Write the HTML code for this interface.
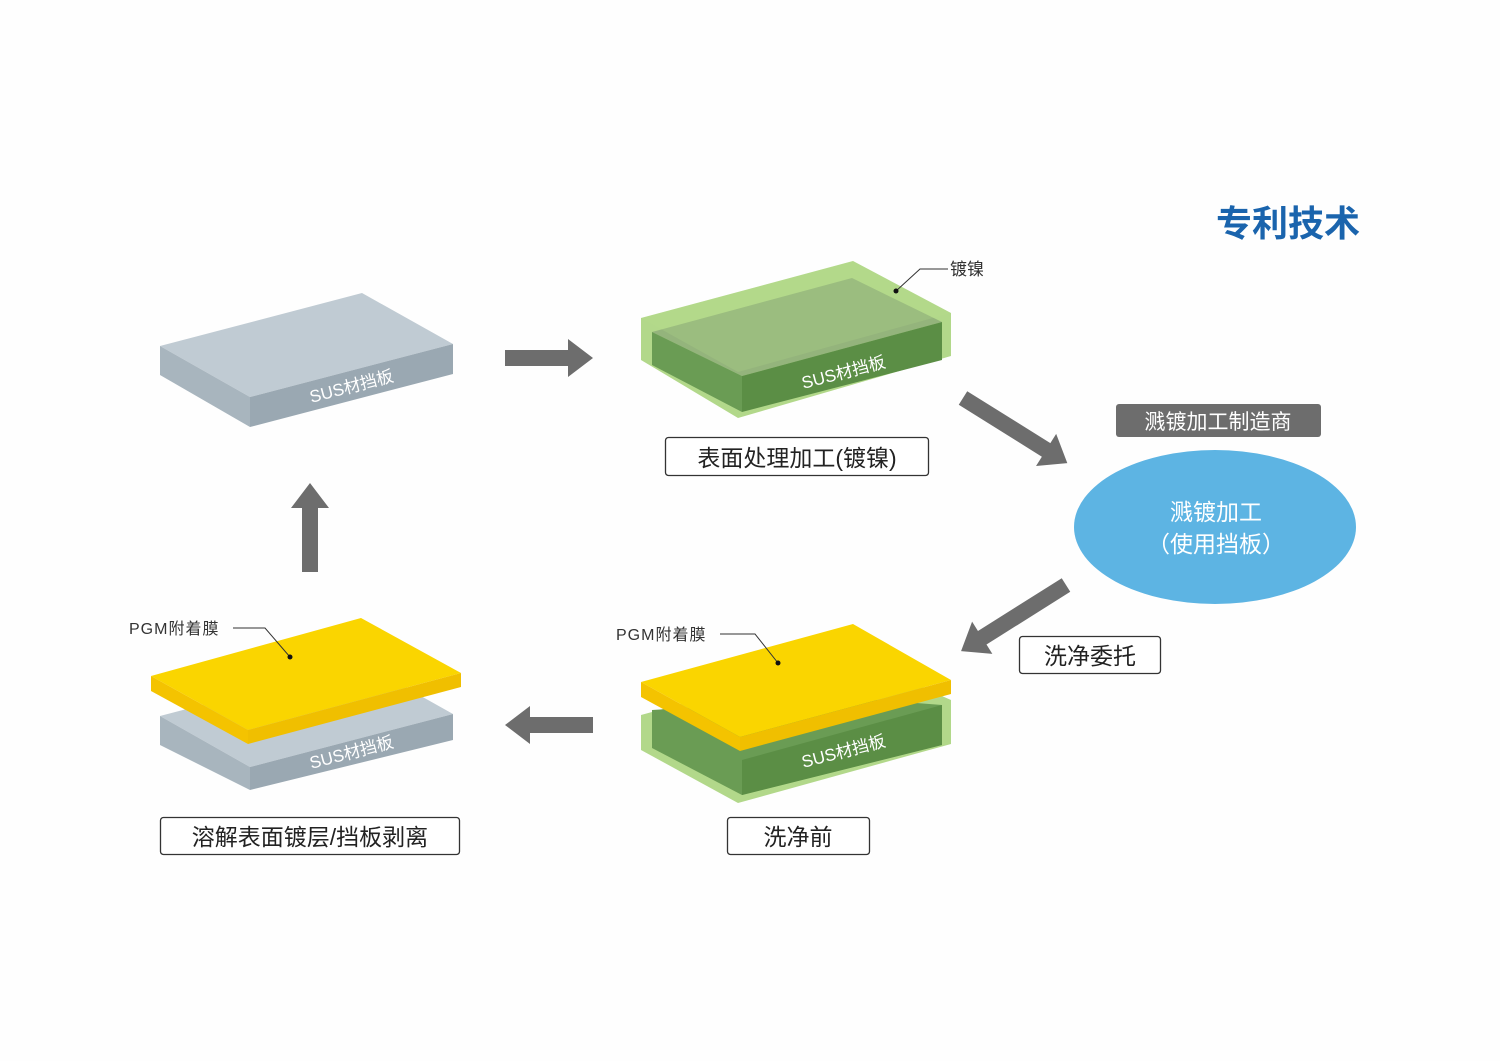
<!DOCTYPE html>
<html><head><meta charset="utf-8"><style>
html,body{margin:0;padding:0;background:#fefefe;}
svg{display:block;}
text{font-family:"Liberation Sans","Noto Sans CJK SC",sans-serif;}
</style></head><body>
<svg width="1500" height="1061" viewBox="0 0 1500 1061" xmlns="http://www.w3.org/2000/svg">
<!-- title -->
<text x="1288" y="236" font-size="36" font-weight="bold" fill="#1a64ad" text-anchor="middle">专利技术</text>

<!-- plate 1 grey -->
<polygon points="160,346 362,293 453,344 250,397" fill="#c0cbd3"/>
<polygon points="160,346 250,397 250,427 160,375" fill="#a8b5be"/>
<polygon points="250,397 453,344 453,374 250,427" fill="#9aa8b2"/>
<text transform="translate(353,392) rotate(-14.7)" font-size="17" fill="#fff" text-anchor="middle">SUS材挡板</text>

<!-- plate 2 green -->
<polygon points="641,318 853,261 951,313 951,356 738,418 641,360" fill="#b2d88a"/>
<polygon points="652,332 852,278 942,322 742,376" fill="#94b47c"/>
<polygon points="652,332 742,376 742,412 652,365" fill="#6a9c54"/>
<polygon points="742,376 942,322 942,360 742,412" fill="#5b8e45"/>
<polygon points="641,318 853,261 951,313 738,372" fill="#b8e08a" opacity="0.2"/>
<text transform="translate(845,378) rotate(-14.7)" font-size="17" fill="#fff" text-anchor="middle">SUS材挡板</text>
<polyline points="896,291 920,269 948,269" fill="none" stroke="#333" stroke-width="1"/>
<circle cx="896" cy="291" r="2.5" fill="#111"/>
<text x="950" y="275" font-size="17" fill="#333">镀镍</text>

<!-- box 1 -->
<rect x="665.5" y="437.5" width="263" height="38" rx="3" fill="#fff" stroke="#333" stroke-width="1.3"/>
<text x="797" y="466" font-size="23" fill="#222" text-anchor="middle">表面处理加工(镀镍)</text>

<!-- arrows -->
<g fill="#6d6d6d">
<polygon transform="translate(505,358)" points="0,-8 63,-8 63,-19 88,0 63,19 63,8 0,8"/>
<polygon transform="translate(963,398) rotate(32)" points="0,-8 98,-8 98,-19 123,0 98,19 98,8 0,8"/>
<polygon transform="translate(1066,585) rotate(147.8)" points="0,-8 99,-8 99,-19 124,0 99,19 99,8 0,8"/>
<polygon transform="translate(593,725) rotate(180)" points="0,-8 63,-8 63,-19 88,0 63,19 63,8 0,8"/>
<polygon transform="translate(310,572) rotate(-90)" points="0,-8 64,-8 64,-19 89,0 64,19 64,8 0,8"/>
</g>

<!-- sputter label & ellipse -->
<rect x="1116" y="404" width="205" height="33" rx="3" fill="#6d6d6d"/>
<text x="1218" y="429" font-size="21" fill="#fff" text-anchor="middle">溅镀加工制造商</text>
<ellipse cx="1215" cy="527" rx="141" ry="77" fill="#5db4e3"/>
<text x="1216" y="520" font-size="23" fill="#fff" text-anchor="middle">溅镀加工</text>
<text x="1216" y="552" font-size="23" fill="#fff" text-anchor="middle">（使用挡板）</text>

<rect x="1019.5" y="636.5" width="141" height="37" rx="3" fill="#fff" stroke="#333" stroke-width="1.3"/>
<text x="1090" y="664" font-size="23" fill="#222" text-anchor="middle">洗净委托</text>

<!-- plate bottom right -->
<polygon points="641,715 853,657 951,700 951,744 738,803 641,750" fill="#b2d88a"/>
<polygon points="652,710 852,698 942,705 942,745 742,795 652,748" fill="#6a9c54"/>
<polygon points="742,760 942,705 942,745 742,795" fill="#5b8e45"/>
<polygon points="641,682 853,624 951,680 740,737" fill="#fad500"/>
<polygon points="641,682 740,737 740,751 641,697" fill="#f4c300"/>
<polygon points="740,737 951,680 951,694 740,751" fill="#f0bf00"/>
<text transform="translate(845,757) rotate(-14.7)" font-size="17" fill="#fff" text-anchor="middle">SUS材挡板</text>
<polyline points="778,663 755,634 720,634" fill="none" stroke="#333" stroke-width="1"/>
<circle cx="778" cy="663" r="2.5" fill="#111"/>
<text x="616" y="640" font-size="16" fill="#333" letter-spacing="1">PGM附着膜</text>

<rect x="727.5" y="817.5" width="142" height="37" rx="3" fill="#fff" stroke="#333" stroke-width="1.3"/>
<text x="798" y="845" font-size="23" fill="#222" text-anchor="middle">洗净前</text>

<!-- plate bottom left -->
<polygon points="160,716 362,663 453,714 250,767" fill="#c0cbd3"/>
<polygon points="160,716 250,767 250,790 160,745" fill="#a8b5be"/>
<polygon points="250,767 453,714 453,740 250,790" fill="#9aa8b2"/>
<polygon points="151,676 361,618 461,673 248,730" fill="#fad500"/>
<polygon points="151,676 248,730 248,744 151,691" fill="#f4c300"/>
<polygon points="248,730 461,673 461,687 248,744" fill="#f0bf00"/>
<text transform="translate(353,758) rotate(-14.7)" font-size="17" fill="#fff" text-anchor="middle">SUS材挡板</text>
<polyline points="290,657 265,628 233,628" fill="none" stroke="#333" stroke-width="1"/>
<circle cx="290" cy="657" r="2.5" fill="#111"/>
<text x="129" y="634" font-size="16" fill="#333" letter-spacing="1">PGM附着膜</text>

<rect x="160.5" y="817.5" width="299" height="37" rx="3" fill="#fff" stroke="#333" stroke-width="1.3"/>
<text x="310" y="845" font-size="23" fill="#222" text-anchor="middle">溶解表面镀层/挡板剥离</text>
</svg>
</body></html>
